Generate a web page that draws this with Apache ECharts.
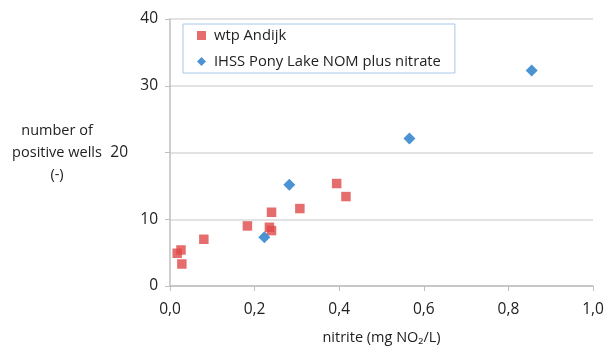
<!DOCTYPE html>
<html><head><meta charset="utf-8">
<script src="https://cdn.jsdelivr.net/npm/echarts@6/dist/echarts.min.js"></script>
<style>html,body{margin:0;padding:0;background:#fff}#c{width:605px;height:346px}</style>
</head><body><div id="c"></div>
<script>
const andijkX = [0.017, 0.026, 0.028, 0.080, 0.183, 0.235, 0.240, 0.240, 0.307, 0.394, 0.416];
const andijkY = [4.9, 5.4, 3.3, 7.0, 9.0, 8.8, 8.3, 11.05, 11.6, 15.35, 13.4];
const ponyX = [0.223, 0.282, 0.566, 0.855];
const ponyY = [7.3, 15.15, 22.1, 32.3];
const seriesNames = ['wtp Andijk', 'IHSS Pony Lake NOM plus nitrate'];
const xTicks = ['0,0','0,2','0,4','0,6','0,8','1,0'];
const yTicks = ['0','10','20','30','40'];

const font = '"Open Sans", "Liberation Sans", sans-serif';
const chart = echarts.init(document.getElementById('c'));
chart.setOption({
  animation: false,
  textStyle: {fontFamily: font},
  grid: {left: 170, right: 12, top: 19, bottom: 60, containLabel: false, outerBoundsMode: 'none'},
  legend: {
    orient: 'vertical', left: 183, top: 24,
    padding: [4, 14, 4, 14],
    itemGap: 11, itemWidth: 9, itemHeight: 9,
    borderColor: '#a9c8e8', borderWidth: 1,
    textStyle: {fontSize: 14.75, color: '#222', fontFamily: font, padding: [0,0,0,3]},
    data: [{name: seriesNames[0], icon: 'rect'}, {name: seriesNames[1], icon: 'diamond'}]
  },
  xAxis: {
    type: 'value', min: 0, max: 1, interval: 0.2,
    axisLine: {show: true, lineStyle: {color: '#bfbfbf', width: 1.5}},
    axisTick: {show: true, length: 5, lineStyle: {color: '#bfbfbf'}},
    splitLine: {show: false},
    axisLabel: {fontSize: 15.5, color: '#222', margin: 16,
      formatter: (v) => xTicks[Math.round(v / 0.2)]},
    name: 'nitrite (mg NO₂/L)', nameLocation: 'middle', nameGap: 44,
    nameTextStyle: {fontSize: 14.5, color: '#222'}
  },
  yAxis: {
    type: 'value', min: 0, max: 40, interval: 10,
    axisLine: {show: true, lineStyle: {color: '#bfbfbf', width: 1.5}},
    axisTick: {show: true, length: 5, lineStyle: {color: '#bfbfbf'}},
    splitLine: {show: true, lineStyle: {color: '#d9d9d9', width: 1.5}},
    axisLabel: {fontSize: 15.5, color: '#222', margin: 12,
      formatter: (v) => { const t = yTicks[Math.round(v / 10)]; return v === 20 ? '{s|' + t + '}' : t; },
      rich: {s: {fontSize: 15.5, color: '#222', padding: [0, 30, 0, 0]}}},
    name: 'number of\npositive wells\n(-)', nameLocation: 'middle', nameRotate: 0, nameGap: 113,
    nameTextStyle: {fontSize: 14.5, color: '#222', align: 'center', lineHeight: 22, padding: [0, 0, 0, 0]}
  },
  series: [
    {name: seriesNames[0], type: 'scatter', symbol: 'rect', symbolSize: 9.5,
     itemStyle: {color: '#e04848'},
     data: andijkX.map((x, i) => [x, andijkY[i]])},
    {name: seriesNames[1], type: 'scatter', symbol: 'diamond', symbolSize: 12,
     itemStyle: {color: '#1f78c8'},
     data: ponyX.map((x, i) => [x, ponyY[i]])}
  ]
});
</script></body></html>
